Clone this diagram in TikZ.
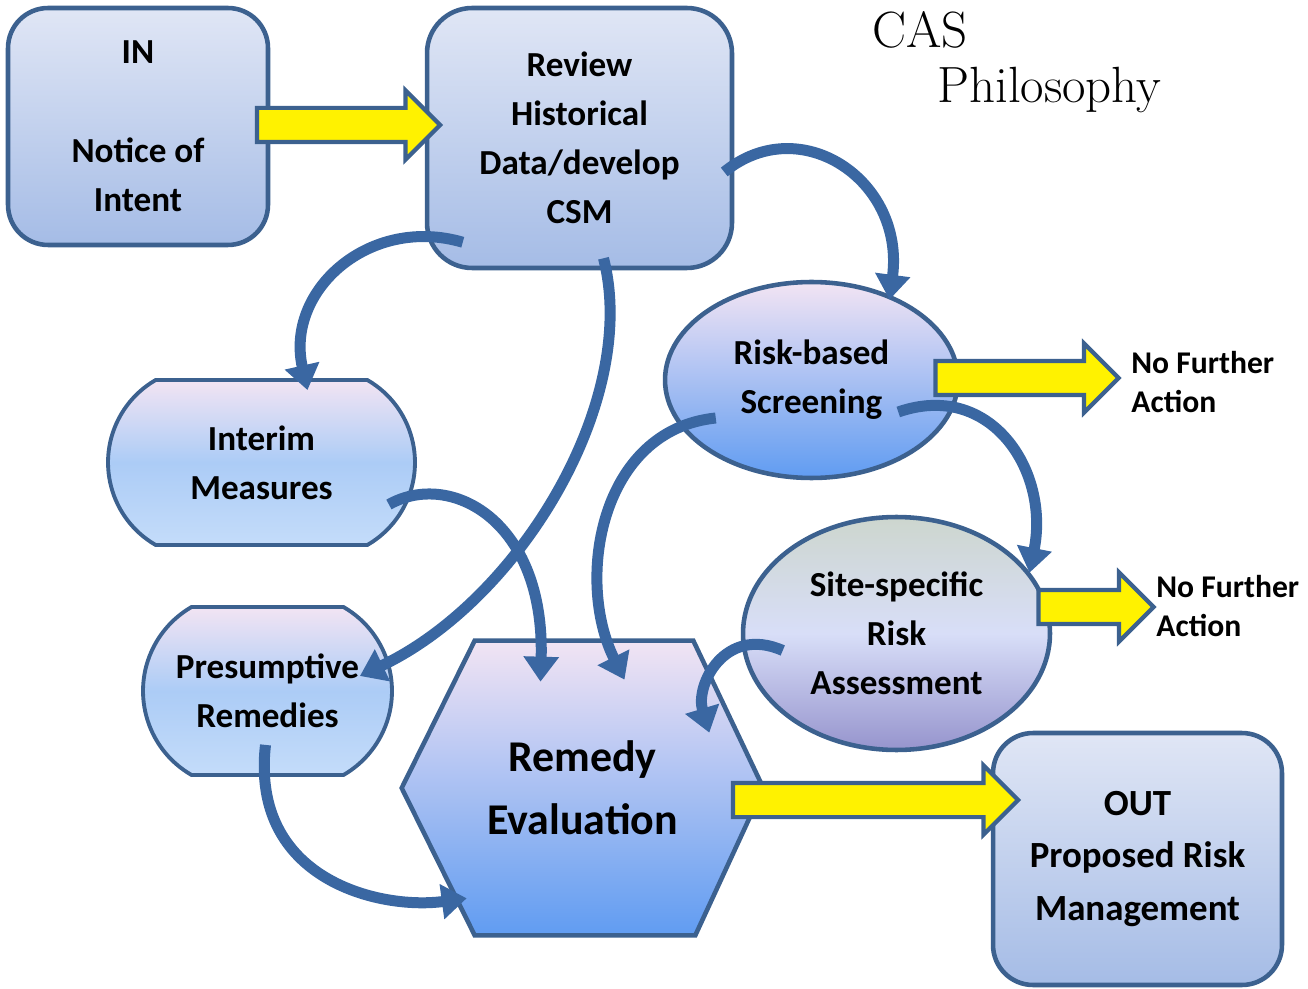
\documentclass[tikz,border=0pt]{standalone}
\usepackage{fontspec}
\usepackage{xcolor}
\usepackage{tikz}
\usetikzlibrary{positioning, shapes, arrows.meta, calc, backgrounds}
\newfontfamily\calfont{Carlito}

\definecolor{edgeblue}{RGB}{60,97,143}
\definecolor{arrowblue}{RGB}{58,103,162}
\definecolor{boxtop}{RGB}{224,230,245}
\definecolor{boxbot}{RGB}{165,188,230}
\definecolor{pinktop}{RGB}{242,228,243}
\definecolor{skyblue}{RGB}{96,156,242}
\definecolor{pillmid}{RGB}{172,204,246}
\definecolor{pillbot}{RGB}{196,220,250}
\definecolor{sitetop}{RGB}{205,214,206}
\definecolor{sitemid}{RGB}{216,222,248}
\definecolor{sitebot}{RGB}{150,148,205}

\begin{document}
\begin{tikzpicture}[
    x=0.02cm, y=-0.02cm,
    txt/.style={font=\calfont\bfseries\fontsize{20}{28}\selectfont, align=center, text=black, inner sep=0pt},
    boxnode/.style={txt, rectangle, rounded corners=0.8cm, draw=edgeblue, line width=2.6pt, top color=boxtop, bottom color=boxbot},
    pillnode/.style={txt, rounded rectangle, rounded rectangle arc length=120, draw=edgeblue, line width=2.2pt, top color=pinktop, bottom color=pillbot, middle color=pillmid},
    ovalnode/.style={txt, ellipse, draw=edgeblue, line width=2.6pt},
    hexfill/.style={draw=edgeblue, line width=2.6pt, top color=pinktop, bottom color=skyblue, line join=miter},
    nfa/.style={font=\calfont\bfseries\fontsize{18}{22}\selectfont, align=left, anchor=west, inner sep=0pt},
    title/.style={font=\fontsize{29}{34}\selectfont, anchor=base west, inner sep=0pt},
    yarrow/.style={single arrow, draw=edgeblue, fill=yellow, line width=2.4pt, inner xsep=0pt, inner ysep=0.3cm, minimum width=1.3cm, single arrow head extend=0.35cm},
    carrow/.style={draw=arrowblue, line width=0.22cm, -{Triangle[length=0.5cm, width=0.68cm]}}
  ]
  \useasboundingbox (0,0) rectangle (1308,989);

  % Boxes
  \node[boxnode, minimum width=5.2cm, minimum height=4.74cm] (in) at (138,126.5) {IN\\[28pt]Notice of\\Intent};
  \node[boxnode, minimum width=6.1cm, minimum height=5.2cm, rounded corners=0.9cm] (rev) at (579.5,138) {Review\\Historical\\Data/develop\\CSM};
  \node[pillnode, minimum width=6.14cm, minimum height=3.3cm] (interim) at (261.5,462.5) {Interim\\Measures};
  \node[pillnode, minimum width=4.98cm, minimum height=3.36cm] (presume) at (267.5,691) {Presumptive\\Remedies};
  \node[ovalnode, minimum width=5.86cm, minimum height=3.92cm, top color=pinktop, bottom color=skyblue] (screen) at (811.5,380) {Risk-based\\Screening};
  \node[ovalnode, minimum width=6.14cm, minimum height=4.66cm, top color=sitetop, bottom color=sitebot, middle color=sitemid] (site) at (896.5,633.5) {Site-specific\\Risk\\Assessment};
  \node[txt, font=\calfont\bfseries\fontsize{25}{36}\selectfont, minimum width=7.22cm, minimum height=5.88cm] (remedy) at (582.5,788) {Remedy\\Evaluation};
  \begin{scope}[on background layer]
    \draw[hexfill] (remedy.west) -- ($(remedy.north west)+(73,0)$) -- ($(remedy.north east)+(-70,0)$)
      -- (remedy.east) -- ($(remedy.south east)+(-68,0)$) -- ($(remedy.south west)+(73,0)$) -- cycle;
  \end{scope}
  \node[boxnode, minimum width=5.78cm, minimum height=5.04cm, font=\calfont\bfseries\fontsize{21}{30}\selectfont] (out) at (1137.5,859) {OUT\\Proposed Risk\\Management};

  % Labels
  \node[nfa] (nfa1) at (1131,382) {No Further\\Action};
  \node[nfa] (nfa2) at (1156,606) {No Further\\Action};
  \node[title] (cas) at (872,48) {CAS};
  \node[title] (philo) at (937,103) {Philosophy};

  % Yellow arrows
  \node[yarrow, minimum height=3.66cm] (go1) at (340,125) {};
  \node[yarrow, minimum height=3.66cm] (go2) at (1018.5,378) {};
  \node[yarrow, minimum height=2.3cm] (go3) at (1087.5,607) {};
  \node[yarrow, minimum height=5.7cm] (go4) at (867,800) {};

  % Curved arrows
  \draw[carrow] ($(rev.east)+(-10,34)$) .. controls (800,110) and (905,180) .. ($(screen.north)+(78,20)$);
  \draw[carrow] ($(rev.south west)+(38,-28)$) .. controls (370,215) and (285,290) .. ($(interim.north)+(46,12)$);
  \draw[carrow] ($(interim.east)+(-28,42)$) .. controls (450,470) and (545,520) .. ($(remedy.north)+(-42,41)$);
  \draw[carrow] ($(screen.west)+(53,38)$) .. controls (600,430) and (575,580) .. ($(remedy.north)+(42,39)$);
  \draw[carrow] ($(rev.south)+(24,-12)$) .. controls (640,400) and (520,600) .. ($(presume.east)+(-34,-15)$);
  \draw[carrow] ($(presume.south)+(-2,-32)$) .. controls (250,880) and (380,910) .. ($(remedy.south west)+(65,-37)$);
  \draw[carrow] ($(screen.east)+(-62,32)$) .. controls (990,380) and (1050,470) .. ($(site.north)+(133,58)$);
  \draw[carrow] ($(site.west)+(42,17)$) .. controls (725,625) and (695,685) .. ($(remedy.north east)+(-54,92)$);
\end{tikzpicture}
\end{document}
